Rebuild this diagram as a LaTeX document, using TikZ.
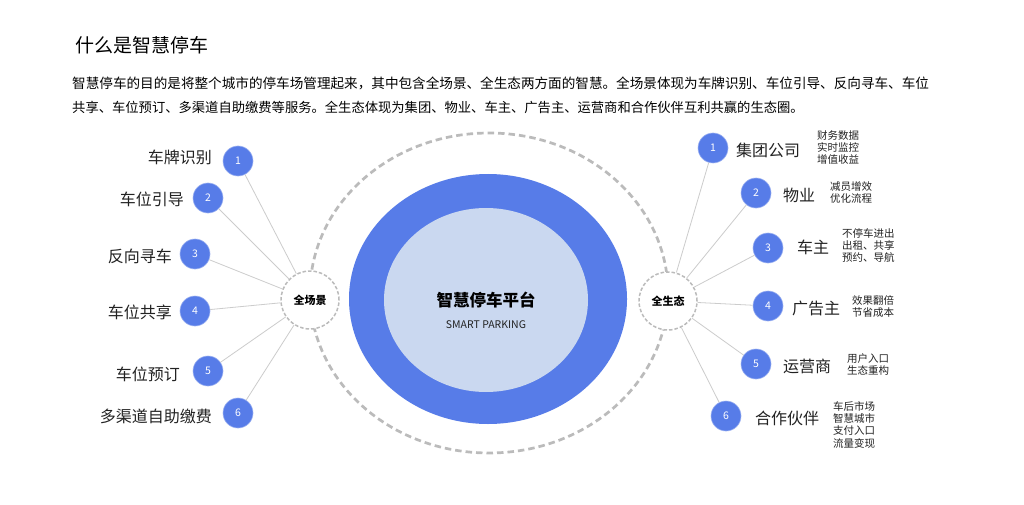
\documentclass[tikz,border=0pt]{standalone}
\usepackage{fontspec}
\setmainfont{Noto Sans CJK SC}
\setsansfont{Noto Sans CJK SC}
\usetikzlibrary{positioning}
\definecolor{mblue}{HTML}{577CE8}
\definecolor{lblue}{HTML}{CAD8F0}
\definecolor{dgray}{HTML}{BBBBBB}
\definecolor{lgray}{HTML}{CCCCCC}
\definecolor{txt}{HTML}{222222}
\tikzset{
  num/.style={circle,fill=mblue,draw=mblue!60!white,line width=0.6pt,minimum size=30pt,inner sep=0pt,text=white,font=\fontsize{10.5}{10.5}\selectfont},
  hub/.style={circle,fill=white,draw=dgray,dash pattern=on 3.5pt off 2pt,line width=1.5pt,minimum size=58pt,inner sep=0pt,font=\bfseries\fontsize{11}{11}\selectfont},
  lab/.style={inner sep=0pt,text=txt,font=\fontsize{16}{16}\selectfont},
  sub/.style={inner sep=0pt,text=txt,align=left,font=\fontsize{10.5}{12.3}\selectfont},
  conn/.style={draw=lgray,line width=0.8pt},
  para/.style={anchor=west,inner sep=0pt,text=black,font=\fontsize{13.3}{13.3}\selectfont}
}
\begin{document}
\begin{tikzpicture}[x=1pt,y=-1pt]
\useasboundingbox[fill=white] (0,0) rectangle (1024,505);
% title and paragraph
\node[anchor=west,inner sep=0pt,text=black,font=\fontsize{19}{19}\selectfont] (title) at (75,45) {什么是智慧停车};
\node[para,font=\fontsize{13.6}{13.6}\selectfont] (p1) at (72,83) {智慧停车的目的是将整个城市的停车场管理起来，其中包含全场景、全生态两方面的智慧。全场景体现为车牌识别、车位引导、反向寻车、车位};
\node[para] (p2) at (72,107) {共享、车位预订、多渠道自助缴费等服务。全生态体现为集团、物业、车主、广告主、运营商和合作伙伴互利共赢的生态圈。};
% big dashed ellipse
\draw[dgray,line width=2.7pt,dash pattern=on 6.5pt off 4pt] (489,293) ellipse [x radius=179,y radius=160];
% blue rings
\fill[mblue] (488,299) ellipse [x radius=139,y radius=125];
\fill[lblue] (486,300) ellipse [x radius=102,y radius=92];
\node[inner sep=0pt,font=\bfseries\fontsize{16.5}{16.5}\selectfont,text=black] (plat) at (486,300) {智慧停车平台};
\node[inner sep=0pt,font=\fontsize{10.5}{10.5}\selectfont,text=txt] (sp) at (486,325) {SMART PARKING};
% hubs
\node[hub] (hl) at (310,300) {全场景};
\node[hub] (hr) at (668,301) {全生态};
% left nodes
\node[num] (l1) at (238,161) {1};
\node[num] (l2) at (208,198) {2};
\node[num] (l3) at (195,254) {3};
\node[num] (l4) at (195,311) {4};
\node[num] (l5) at (208,371) {5};
\node[num] (l6) at (238,413) {6};
\foreach \i in {1,...,6} {\draw[conn] (hl) -- (l\i);}
\node[lab,anchor=east] (tl1) at (212,157) {车牌识别};
\node[lab,anchor=east] (tl2) at (184,199) {车位引导};
\node[lab,anchor=east] (tl3) at (172,256) {反向寻车};
\node[lab,anchor=east] (tl4) at (172,312) {车位共享};
\node[lab,anchor=east] (tl5) at (180,374) {车位预订};
\node[lab,anchor=east] (tl6) at (212,416) {多渠道自助缴费};
% right nodes
\node[num] (r1) at (713,148) {1};
\node[num] (r2) at (756,193) {2};
\node[num] (r3) at (768,248) {3};
\node[num] (r4) at (768,306) {4};
\node[num] (r5) at (756,364) {5};
\node[num] (r6) at (726,416) {6};
\foreach \i in {1,...,6} {\draw[conn] (hr) -- (r\i);}
\node[lab,anchor=west] (tr1) at (736,150) {集团公司};
\node[lab,anchor=west] (tr2) at (783,195) {物业};
\node[lab,anchor=west] (tr3) at (797,247) {车主};
\node[lab,anchor=west] (tr4) at (792,308) {广告主};
\node[lab,anchor=west] (tr5) at (783,366) {运营商};
\node[lab,anchor=west] (tr6) at (755,418) {合作伙伴};
\node[sub,anchor=north west] (s1) at (817,130) {财务数据\\实时监控\\增值收益};
\node[sub,anchor=north west] (s2) at (830,181) {减员增效\\优化流程};
\node[sub,anchor=north west] (s3) at (842,228) {不停车进出\\出租、共享\\预约、导航};
\node[sub,anchor=north west] (s4) at (852,295) {效果翻倍\\节省成本};
\node[sub,anchor=north west] (s5) at (847,353) {用户入口\\生态重构};
\node[sub,anchor=north west] (s6) at (833,401) {车后市场\\智慧城市\\支付入口\\流量变现};
\end{tikzpicture}
\end{document}
